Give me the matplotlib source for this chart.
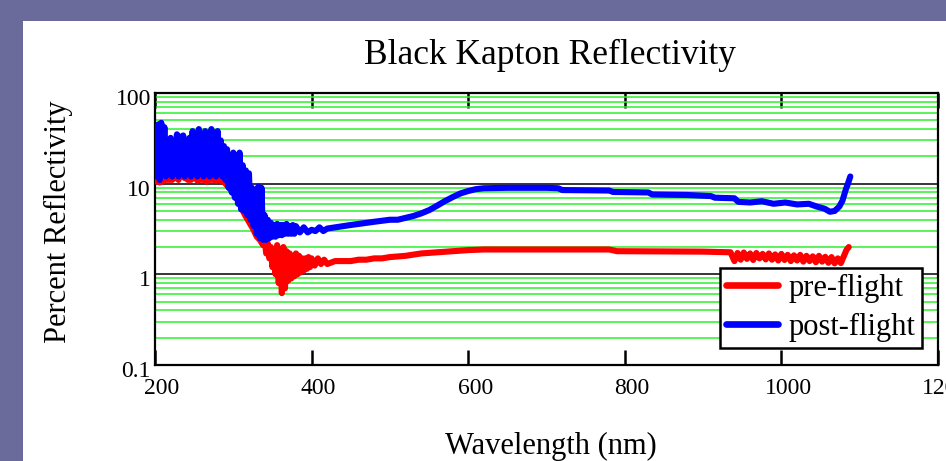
import matplotlib.pyplot as plt
import matplotlib.transforms as mtransforms
from matplotlib.patches import Rectangle
from matplotlib.ticker import LogLocator, NullFormatter

# pre-flight reflectivity (%)
pre_wl = [200, 202, 204, 206, 208, 210, 212, 214, 216, 218, 220, 222, 224, 226, 228,
          230, 232, 234, 236, 238, 240, 242, 244, 246, 248, 250, 252, 254, 256, 258,
          260, 262, 264, 266, 268, 270, 272, 274, 276, 278, 280, 282, 284, 286, 288,
          290, 295, 300, 305, 310, 315, 320, 325, 330, 334, 338, 340, 342, 344, 346,
          348, 350, 352, 354, 356, 358, 360, 362, 364, 366, 368, 370, 372, 374, 376,
          378, 380, 382, 384, 386, 388, 390, 392, 394, 396, 398, 400, 404, 408, 412,
          416, 420, 430, 440, 450, 460, 470, 480, 490, 500, 520, 540, 560, 580, 600,
          620, 700, 780, 790, 900, 935,
          940, 944, 948, 952, 956, 960, 964, 968, 972, 976, 980, 984, 988, 992, 996,
          1000, 1004, 1008, 1012, 1016, 1020, 1024, 1028, 1032, 1036, 1040, 1044, 1048,
          1052, 1056, 1060, 1064, 1068, 1072, 1076, 1080, 1083, 1086]
pre_r = [14, 10.5, 12, 10.3, 13, 10.5, 12, 11, 13, 11, 12, 11, 14, 11.5, 18,
         11, 20, 12, 13, 11.5, 13, 11, 12, 11, 14, 11.5, 12, 10.8, 13, 11,
         12, 11, 13, 10.5, 14, 11, 15, 11, 12, 10.8, 12, 11, 12, 10.5, 11,
         10, 9, 8, 6.8, 5.5, 4.5, 3.8, 3.2, 2.6, 2.4, 2.1, 2.5, 1.7, 2.2, 1.5,
         2.0, 1.2, 1.9, 1.0, 2.1, 0.8, 1.7, 0.62, 2.0, 0.7, 1.8, 0.85, 1.7, 0.9, 1.6,
         0.95, 1.7, 1.0, 1.6, 1.05, 1.5, 1.1, 1.5, 1.15, 1.55, 1.2, 1.5, 1.25, 1.5, 1.3,
         1.45, 1.3, 1.4, 1.4, 1.4, 1.45, 1.45, 1.5, 1.5, 1.55, 1.6, 1.7, 1.75, 1.8, 1.85,
         1.88, 1.88, 1.88, 1.8, 1.78, 1.75,
         1.40, 1.72, 1.45, 1.74, 1.48, 1.70, 1.44, 1.72, 1.50, 1.68, 1.46, 1.70, 1.45, 1.66, 1.42,
         1.68, 1.44, 1.64, 1.40, 1.62, 1.42, 1.64, 1.38, 1.60, 1.40, 1.58, 1.36, 1.60,
         1.38, 1.56, 1.34, 1.55, 1.32, 1.50, 1.33, 1.60, 1.85, 2.0]

# post-flight reflectivity (%)
post_wl = [200, 202, 204, 206, 208, 210, 212, 214, 216, 218, 220, 222, 224, 226, 228,
           230, 232, 234, 236, 238, 240, 242, 244, 246, 248, 250, 252, 254, 256, 258,
           260, 262, 264, 266, 268, 270, 272, 274, 276, 278, 280, 282, 284, 286, 288,
           290, 292, 294, 296, 298, 300, 302, 304, 306, 308, 310, 312, 314, 316, 318,
           320, 322, 324, 326, 328, 330, 332, 334, 336, 338, 340, 342, 344, 346, 348,
           350, 352, 354, 356, 358, 360, 362, 364, 366, 368, 370, 372, 374, 376, 378,
           380, 385, 390, 395, 400, 405, 410, 415, 420, 430, 440, 450, 460, 470, 480,
           490, 500, 510, 520, 530, 540, 550, 560, 570, 580, 590, 600, 610, 620, 650,
           700, 715, 720, 780, 785, 830, 835, 880, 910, 915, 940, 945, 960, 975, 990,
           1005, 1020, 1035, 1045, 1055, 1062, 1068, 1074, 1078, 1082, 1085, 1088]
post_r = [40, 12, 45, 11, 47, 13, 42, 12, 30, 14, 32, 12, 28, 13, 35,
          12, 33, 14, 34, 12, 30, 13, 32, 12, 38, 14, 30, 12, 40, 13,
          33, 12, 38, 14, 36, 12, 40, 13, 34, 12, 38, 14, 30, 12, 26,
          11, 24, 9, 18, 8, 22, 7, 20, 6, 22, 5.2, 16, 5, 14, 4.5,
          13, 4, 9, 3.4, 8.5, 2.8, 9.3, 2.5, 9, 2.4, 4.5, 2.4, 4.0, 2.5, 3.7,
          2.6, 3.5, 2.6, 3.6, 2.7, 3.5, 2.7, 3.5, 2.8, 3.6, 2.8, 3.4, 2.8, 3.5, 2.8,
          3.4, 2.9, 3.3, 2.9, 3.1, 3.0, 3.3, 3.0, 3.2, 3.3, 3.4, 3.5, 3.6, 3.7, 3.8,
          3.9, 4.0, 4.0, 4.2, 4.4, 4.7, 5.1, 5.7, 6.4, 7.1, 7.8, 8.3, 8.7, 8.9, 9.0,
          9.0, 8.9, 8.5, 8.4, 8.1, 8.0, 7.6, 7.5, 7.3, 7.0, 6.9, 6.3, 6.2, 6.4, 6.0,
          6.2, 5.9, 6.0, 5.6, 5.3, 4.9, 5.0, 5.6, 6.5, 8.5, 10, 12]

y_ticks = [0.1, 1, 10, 100]
y_tick_labels = ["0.1", "1", "10", "100"]
x_ticks = [200, 400, 600, 800, 1000, 1200]

plt.rcParams["font.family"] = ["Liberation Serif", "DejaVu Serif"]

W, H = 946, 461
fig = plt.figure(figsize=(W / 100, H / 100), dpi=100)
fig.patch.set_facecolor("#6a6a9b")
fig.patches.append(Rectangle((23 / W, 0), 1 - 23 / W, (H - 21) / H,
                             transform=fig.transFigure, facecolor="white",
                             edgecolor="none", zorder=-10))

ax = fig.add_axes([155 / W, (H - 365) / H, (938 - 155) / W, (365 - 93) / H])
ax.set_facecolor("white")

ax.plot(pre_wl, pre_r, color="#ff0000", lw=4.4, label="pre-flight",
        solid_joinstyle="round", solid_capstyle="round", zorder=3)
ax.plot(post_wl, post_r, color="#0000ff", lw=4.4, label="post-flight",
        solid_joinstyle="round", solid_capstyle="round", zorder=4)

ax.set_yscale("log")
ax.set_ylim(0.1, 100)
ax.set_xlim(200, 1200)

ax.set_yticks(y_ticks, labels=y_tick_labels)
ax.yaxis.set_minor_locator(LogLocator(base=10, subs=range(2, 10)))
ax.yaxis.set_minor_formatter(NullFormatter())
ax.set_xticks(x_ticks)

ax.grid(False)
ax.yaxis.grid(True, which="minor", color="#2cf02c", lw=1.1, zorder=1)
ax.yaxis.grid(True, which="major", color="black", lw=1.1, zorder=1)
ax.set_axisbelow(True)

ax.tick_params(axis="y", which="both", length=0, labelsize=17, pad=3)
ax.tick_params(axis="x", which="major", direction="in", length=11, width=1.8,
               top=True, labelsize=17, pad=9)
for s in ax.spines.values():
    s.set_linewidth(1.6)

# nudge the tick labels the way the original renderer placed them
dx = mtransforms.ScaledTranslation(7 / 100, 0, fig.dpi_scale_trans)
for lab in ax.get_xticklabels():
    lab.set_transform(lab.get_transform() + dx)
dy = mtransforms.ScaledTranslation(0, -4 / 100, fig.dpi_scale_trans)
for lab in ax.get_yticklabels():
    lab.set_transform(lab.get_transform() + dy)

ax.set_xlabel("Wavelength (nm)", fontsize=22, va="center")
ax.xaxis.set_label_coords((551 - 155) / 783, (365 - 446) / 272)
ax.set_ylabel("Percent Reflectivity", fontsize=22, va="center")
ax.yaxis.set_label_coords((58 - 155) / 783, (365 - 222) / 272)

fig.text(549.5 / W, 1 - 55 / H, "Black Kapton Reflectivity", fontsize=25.5,
         ha="center", va="center")

leg = ax.legend(loc="lower right", bbox_to_anchor=((922 - 155) / 783, (365 - 348) / 272),
                borderaxespad=0, fontsize=22, frameon=True, fancybox=False,
                edgecolor="black", framealpha=1, borderpad=0.2, labelspacing=0.33,
                handlelength=1.7, handletextpad=0.35)
leg.get_frame().set_linewidth(1.8)
for h in leg.get_lines():
    h.set_linewidth(4.8)
leg.set_zorder(10)

fig.savefig("out.png", dpi=100)
